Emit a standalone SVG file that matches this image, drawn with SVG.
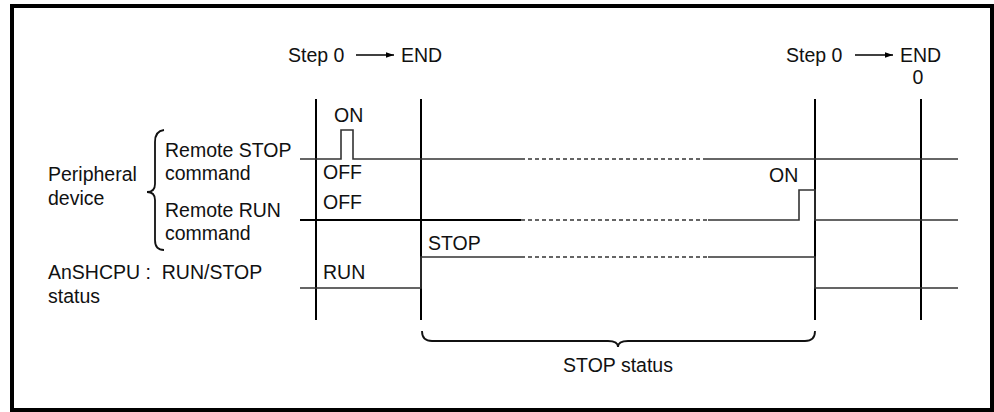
<svg xmlns="http://www.w3.org/2000/svg" width="994" height="412" viewBox="0 0 994 412">
<defs>
<style>
text{font-family:"Liberation Sans",Arial,sans-serif;font-size:19.5px;fill:#111}
.grid{stroke:#000;stroke-width:2;fill:none}
.sig{stroke:#333;stroke-width:1.6;fill:none}
.dot{stroke:#333;stroke-width:1.6;fill:none;stroke-dasharray:4 3}
.brace{stroke:#111;stroke-width:1.8;fill:none}
</style>
<marker id="ah" viewBox="0 0 10 10" refX="10" refY="5" markerWidth="8" markerHeight="8" markerUnits="userSpaceOnUse" orient="auto">
<path d="M0,1.5 L10,5 L0,8.5 Z" fill="#000"/>
</marker>
</defs>
<rect x="12" y="6" width="980" height="404" fill="#fff" stroke="#000" stroke-width="4"/>

<g id="header-left">
<text x="288" y="62">Step 0</text>
<line x1="356" y1="55" x2="394" y2="55" stroke="#000" stroke-width="1.6" marker-end="url(#ah)"/>
<text x="401" y="62">END</text>
</g>
<g id="header-right">
<text x="786" y="62">Step 0</text>
<line x1="855" y1="55" x2="893" y2="55" stroke="#000" stroke-width="1.6" marker-end="url(#ah)"/>
<text x="900" y="62">END</text>
<text x="918" y="84" text-anchor="middle">0</text>
</g>

<g id="labels">
<text x="48" y="181">Peripheral</text>
<text x="48" y="205">device</text>
<text x="165" y="157">Remote STOP</text>
<text x="165" y="180">command</text>
<text x="165" y="217">Remote RUN</text>
<text x="165" y="240">command</text>
<text x="48" y="279" xml:space="preserve">AnSHCPU :  RUN/STOP</text>
<text x="48" y="303">status</text>
<path class="brace" d="M164,130 Q155,131 155,142 L155,184 Q155,192 147,192 Q155,192 155,200 L155,240 Q155,250 164,250"/>
</g>

<g id="grid">
<line class="grid" x1="316" y1="99" x2="316" y2="320"/>
<line class="grid" x1="421" y1="99" x2="421" y2="320"/>
<line class="grid" x1="815" y1="99" x2="815" y2="320"/>
<line class="grid" x1="921" y1="99" x2="921" y2="320"/>
</g>

<g id="connectors">
<g id="sig-stop-cmd">
<polyline class="sig" points="300,159 341,159 341,130 353,130 353,159 521,159"/>
<line class="dot" x1="521" y1="159" x2="705" y2="159"/>
<line class="sig" x1="705" y1="159" x2="958" y2="159"/>
</g>
<g id="sig-run-cmd">
<line class="sig" x1="300" y1="220" x2="521" y2="220" style="stroke:#000;stroke-width:2"/>
<line class="dot" x1="521" y1="220" x2="708" y2="220"/>
<polyline class="sig" points="708,220 799,220 799,190 815,190 815,220 958,220"/>
</g>
<g id="sig-status">
<polyline class="sig" points="300,288 421,288 421,257 521,257"/>
<line class="dot" x1="521" y1="257" x2="708" y2="257"/>
<polyline class="sig" points="708,257 815,257 815,288 958,288"/>
</g>
</g>

<g id="state-labels">
<text x="334" y="122">ON</text>
<text x="323" y="179">OFF</text>
<text x="323" y="209">OFF</text>
<text x="323" y="279">RUN</text>
<text x="428" y="250">STOP</text>
<text x="769" y="182">ON</text>
</g>

<g id="stop-status">
<path class="brace" d="M422,331 Q422,341 432,341 L608,341 Q618,341 618,347 Q618,341 628,341 L805,341 Q815,341 815,331"/>
<text x="618" y="372" text-anchor="middle">STOP status</text>
</g>
</svg>
